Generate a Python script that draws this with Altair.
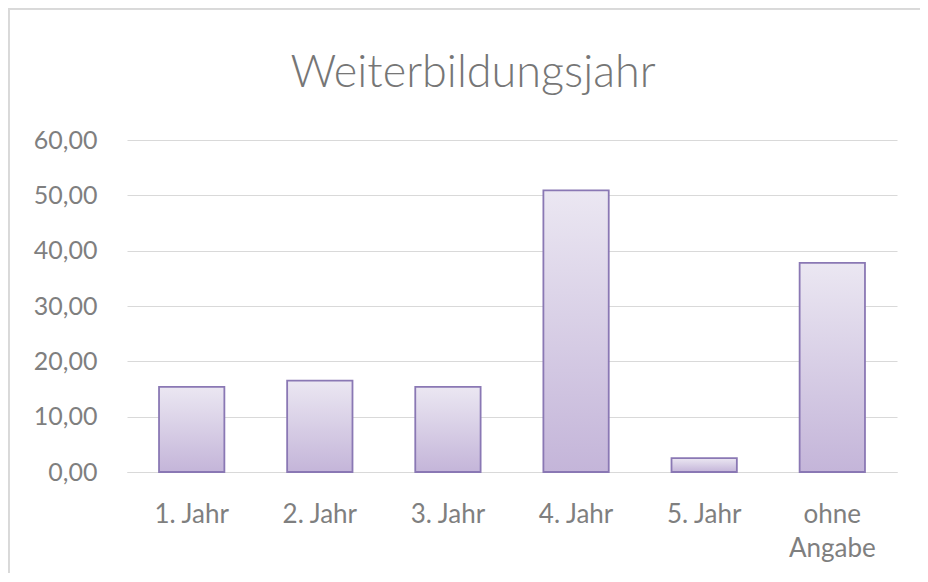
import altair as alt
import pandas as pd

categories = ["1. Jahr", "2. Jahr", "3. Jahr", "4. Jahr", "5. Jahr", "ohne Angabe"]
values = [15.4, 16.5, 15.4, 50.9, 2.5, 37.8]
y_ticks = [0, 10, 20, 30, 40, 50, 60]

df = pd.DataFrame({"kat": categories, "wert": values})

PAD_L, PAD_T, PAD_R, PAD_B = 119, 132, 23, 101
W, H = 770, 332

gradient = alt.Gradient(
    gradient="linear",
    x1=0, y1=0, x2=0, y2=1,
    stops=[
        alt.GradientStop(offset=0, color="#ebe7f2"),
        alt.GradientStop(offset=1, color="#c4b5d9"),
    ],
)

bars = alt.Chart(df).mark_bar(
    fill=gradient, stroke="#8a78b4", strokeWidth=1.8
).encode(
    x=alt.X(
        "kat:N", sort=categories, title=None,
        scale=alt.Scale(paddingInner=0.49, paddingOuter=0.25),
        axis=alt.Axis(
            labelAngle=0, ticks=False, domainColor="#d9d9d9", domainWidth=1,
            labelColor="#7f7f7f", labelFont="Lato", labelFontSize=26,
            labelPadding=29, labelLineHeight=34,
            labelExpr="datum.value == 'ohne Angabe' ? ['ohne', 'Angabe'] : datum.value",
        ),
    ),
    y=alt.Y(
        "wert:Q", title=None,
        scale=alt.Scale(domain=[0, 60], nice=False),
        axis=alt.Axis(
            values=y_ticks, domain=False, ticks=False, grid=True,
            gridColor="#d9d9d9", gridWidth=1,
            labelColor="#7f7f7f", labelFont="Lato", labelFontSize=25,
            labelPadding=30,
            labelExpr="replace(format(datum.value, '.2f'), '.', ',')",
        ),
    ),
)

frame_top = alt.Chart(df).mark_rule(color="#d9d9d9", strokeWidth=1.5).encode(
    x=alt.value(-PAD_L), x2=alt.value(W + PAD_R), y=alt.value(-PAD_T + 0.75)
)
frame_left = alt.Chart(df).mark_rule(color="#d9d9d9", strokeWidth=1.5).encode(
    x=alt.value(-PAD_L + 0.75), y=alt.value(-PAD_T), y2=alt.value(H + PAD_B)
)

chart = alt.layer(bars, frame_top, frame_left).properties(
    width=W, height=H,
    autosize=alt.AutoSizeParams(type="none"),
    padding={"left": PAD_L, "top": PAD_T, "right": PAD_R, "bottom": PAD_B},
    title=alt.TitleParams(
        "Weiterbildungsjahr", anchor="middle", frame="group", dx=-39,
        font="Lato", fontSize=45, fontWeight=300, color="#767676",
        baseline="alphabetic", offset=-125,
    ),
).configure_view(stroke=None)

chart.save("out.html", embed_options={"renderer": "svg", "actions": False})
